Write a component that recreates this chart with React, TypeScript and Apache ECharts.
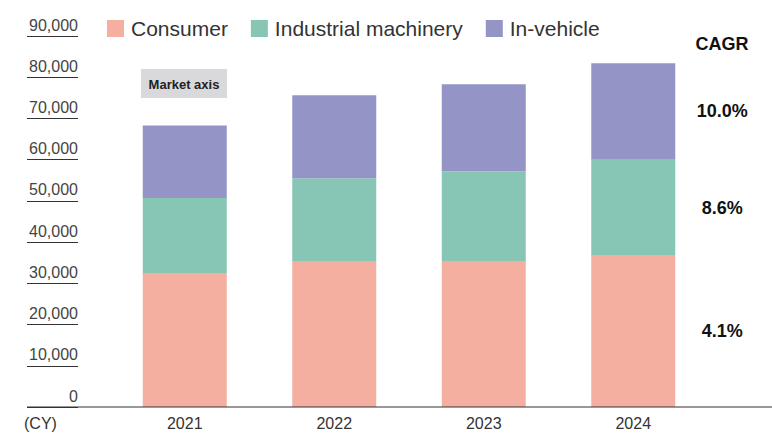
import React, { useEffect, useRef } from "react";
import * as echarts from "echarts";

const categories = ["2021", "2022", "2023", "2024"];
const seriesNames = ["Consumer", "Industrial machinery", "In-vehicle"];
const consumer = [32500, 35400, 35400, 36700];
const industrial = [18200, 20100, 21800, 23300];
const inVehicle = [17600, 20100, 21100, 23400];
const cagr = ["4.1%", "8.6%", "10.0%"];
const colors = ["#f4afa0", "#87c6b4", "#9494c6"];
const yMax = 90000;
const yInterval = 10000;

const FONT = "'Liberation Sans', Arial, Helvetica, sans-serif";

export default function App() {
  const ref = useRef<HTMLDivElement>(null);
  useEffect(() => {
    if (!ref.current) return;
    const chart = echarts.init(ref.current, undefined, { renderer: "svg" });
    const values = [consumer, industrial, inVehicle];
    const lastIdx = categories.length - 1;
    const series = values.map((vals, si) => ({
      type: "bar",
      name: seriesNames[si],
      stack: "total",
      xAxisIndex: 1,
      yAxisIndex: 1,
      barWidth: 84,
      itemStyle: { color: colors[si] },
      data: vals.map((v, i) =>
        i === lastIdx
          ? {
              value: v,
              label: {
                show: true,
                position: "inside",
                offset: [89, 0],
                formatter: cagr[si],
                color: "#111",
                fontSize: 18,
                fontWeight: "bold",
                fontFamily: FONT,
              },
            }
          : v
      ),
    }));
    chart.setOption({
      animation: false,
      textStyle: { fontFamily: FONT },
      legend: {
        data: seriesNames,
        left: 102,
        top: 13,
        itemWidth: 17,
        itemHeight: 17,
        itemGap: 23,
        icon: "rect",
        textStyle: { fontSize: 21, color: "#333", fontFamily: FONT, padding: [0, 0, 0, 2] },
      },
      grid: [
        { left: 27, width: 51, top: 36, bottom: 26 },
        { left: 110, width: 598, top: 36, bottom: 26 },
      ],
      xAxis: [
        { type: "value", gridIndex: 0, show: false },
        {
          type: "category",
          gridIndex: 1,
          data: categories,
          axisLine: { show: false },
          axisTick: { show: false },
          axisLabel: { fontSize: 16, color: "#333", margin: 8, fontFamily: FONT },
        },
      ],
      yAxis: [
        {
          type: "value",
          gridIndex: 0,
          min: 0,
          max: yMax,
          interval: yInterval,
          position: "right",
          axisLine: { show: false },
          axisTick: { show: false },
          splitLine: { show: true, lineStyle: { color: "#333", width: 1 } },
          axisLabel: {
            inside: true,
            margin: 0,
            verticalAlign: "bottom",
            padding: [0, 0, 3, 0],
            fontSize: 16,
            color: "#444",
            fontFamily: FONT,
            formatter: (v: number) => v.toLocaleString("en-US"),
          },
        },
        { type: "value", gridIndex: 1, min: 0, max: yMax, interval: yInterval, show: false },
      ],
      graphic: [
        {
          type: "line",
          shape: { x1: 27, y1: 407, x2: 772, y2: 407 },
          style: { stroke: "#333", lineWidth: 1.2 },
          z: 10,
        },
        {
          type: "text",
          x: 24,
          y: 415,
          style: { text: "(CY)", fontSize: 16, fill: "#333", font: `16px ${FONT}` },
        },
        {
          type: "text",
          x: 722,
          y: 44,
          style: {
            text: "CAGR",
            fill: "#111",
            font: `bold 18px ${FONT}`,
            align: "center",
            verticalAlign: "middle",
          },
        },
        {
          type: "rect",
          shape: { x: 141, y: 69, width: 86, height: 29 },
          style: { fill: "#d9d9db" },
        },
        {
          type: "text",
          x: 184,
          y: 84,
          style: {
            text: "Market axis",
            fill: "#222",
            font: `bold 13px ${FONT}`,
            align: "center",
            verticalAlign: "middle",
          },
        },
      ],
      series,
    });
    return () => chart.dispose();
  }, []);
  return (
    <div
      ref={ref}
      style={{ position: "fixed", left: 0, top: 0, width: 772, height: 433, background: "#fff" }}
    />
  );
}
